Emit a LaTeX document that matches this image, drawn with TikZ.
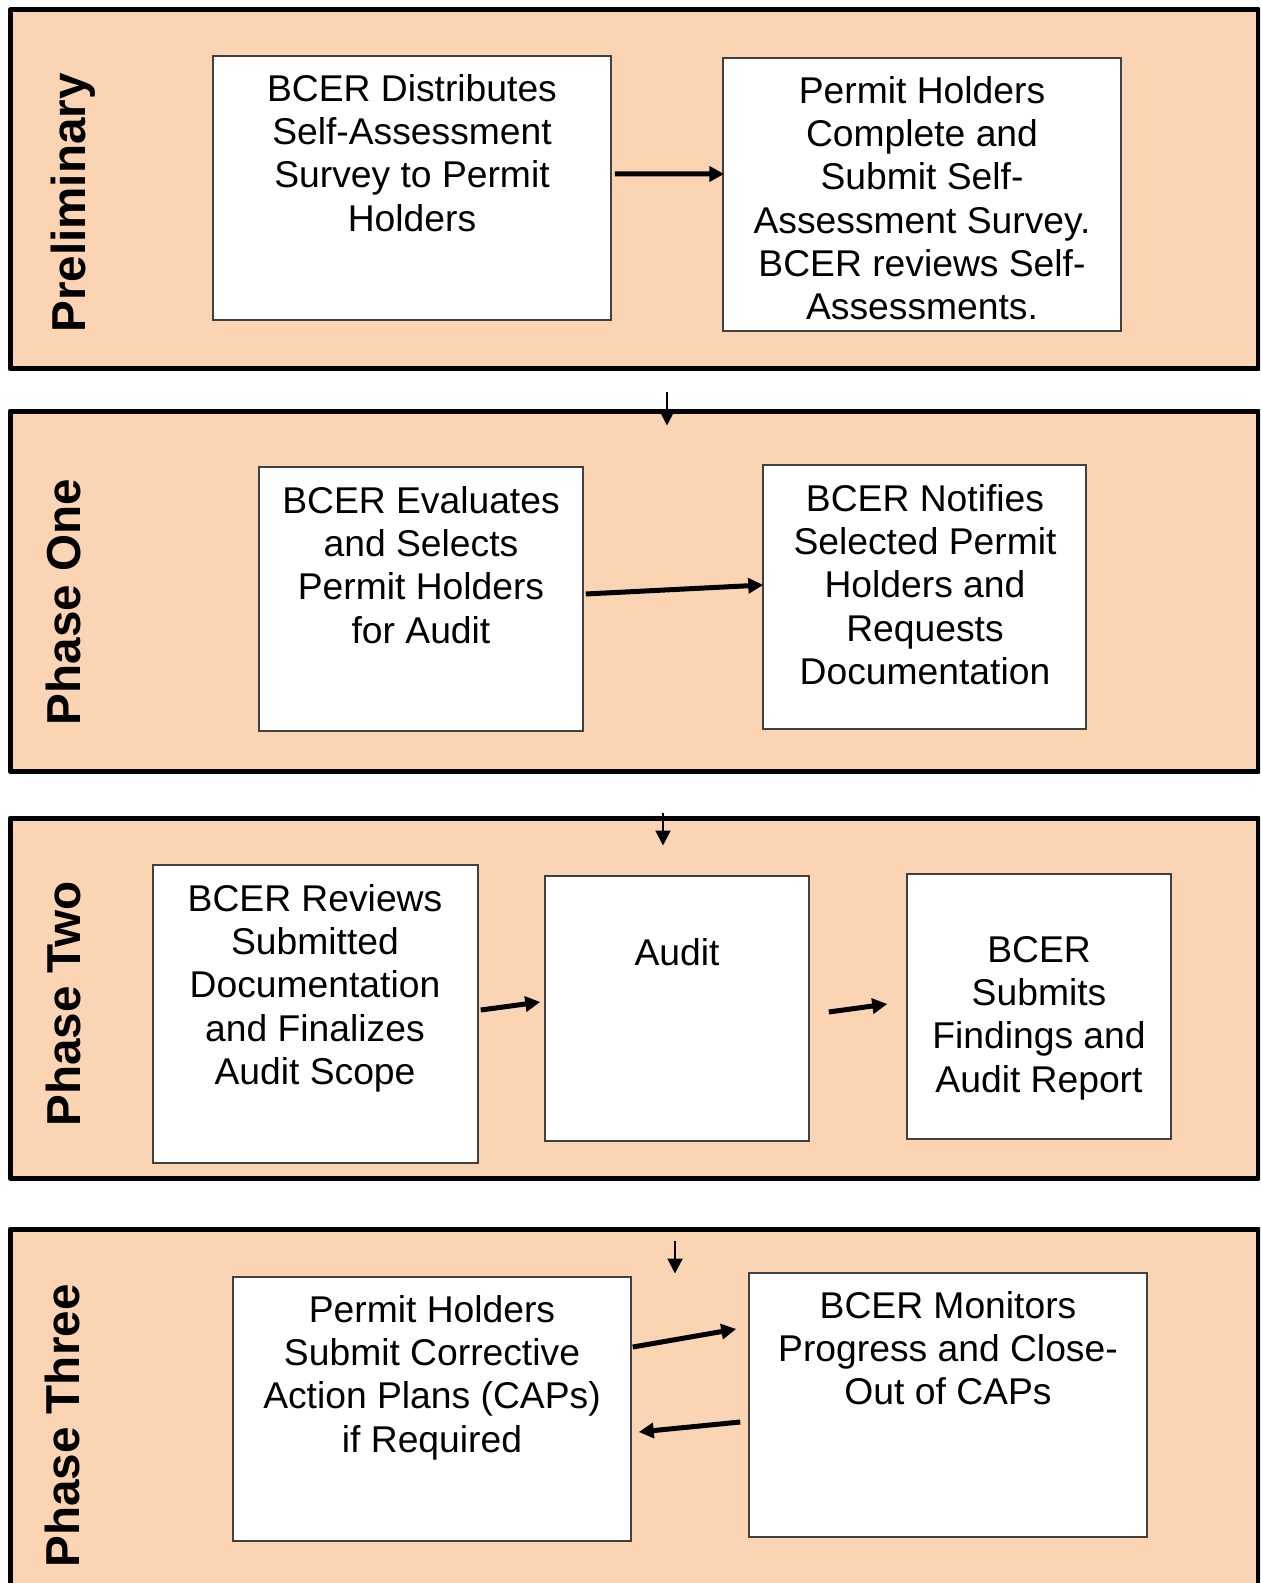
\documentclass[tikz,border=0pt]{standalone}
\usepackage{fontspec}
\setmainfont{Liberation Sans}
\usetikzlibrary{arrows.meta,calc,fit}
\definecolor{peach}{HTML}{FBD4B4}
\tikzset{
  panel/.style  ={draw,line width=1mm,fill=peach,inner sep=0pt,line join=round},
  stepbox/.style={draw=black!75,line width=0.3mm,fill=white,inner sep=0pt},
  txt/.style    ={align=center,inner sep=0pt,font=\fontsize{21.2}{24.6}\selectfont},
  phase/.style  ={rotate=90,anchor=base,inner sep=0pt,font=\bfseries\fontsize{27.1}{32}\selectfont},
  ar/.style     ={-{Triangle[length=3mm,width=3mm]},line width=1mm},
  dn/.style     ={-{Triangle[length=3mm,width=3mm]},line width=0.4mm},
}

\begin{document}
\begin{tikzpicture}[x=0.2mm,y=-0.2mm]
  \useasboundingbox (0,0) rectangle (1260,1583);
  \clip (0,0) rectangle (1260,1583);
  % phase bands
  \node[panel,fit={(10,10) (1258,369)}] (prelim) {};
  \node[panel,fit={(10,411) (1258,771)}] (one) {};
  \node[panel,fit={(10,818) (1258,1178)}] (two) {};
  \node[panel,fit={(10,1229) (1258,1650)}] (three) {};
  \node[phase] (lprelim) at (85,203) {Preliminary};
  \node[phase] (lone) at (80,602) {Phase One};
  \node[phase] (ltwo) at (80,1004) {Phase Two};
  \node[phase] (lthree) at (79,1426) {Phase Three};

  % preliminary
  \node[stepbox,fit={(213,56) (611,320)}] (dist) {};
  \node[txt,anchor=north] (tdist) at (412,74) {BCER Distributes\\Self-Assessment\\Survey to Permit\\Holders};
  \node[stepbox,fit={(723,58) (1121,331)}] (submit) {};
  \node[txt,anchor=north] (tsubmit) at (922,76) {Permit Holders\\Complete and\\Submit Self-\\Assessment Survey.\\BCER reviews Self-\\Assessments.};
  \draw[ar] ($(dist.east)+(3,-14)$) -- ($(submit.west)+(2,-20.5)$);

  % phase one
  \node[stepbox,fit={(259,467) (583,731)}] (evaluate) {};
  \node[txt,anchor=north] (tevaluate) at (421,486) {BCER Evaluates\\and Selects\\Permit Holders\\for Audit};
  \node[stepbox,fit={(763,465) (1086,729)}] (notify) {};
  \node[txt,anchor=north] (tnotify) at (925,484) {BCER Notifies\\Selected Permit\\Holders and\\Requests\\Documentation};
  \draw[ar] ($(evaluate.east)+(2,-5)$) -- ($(notify.west)+(1,-12)$);

  % phase two
  \node[stepbox,fit={(153,865) (478,1163)}] (review) {};
  \node[txt,anchor=north] (treview) at (315,884) {BCER Reviews\\Submitted\\Documentation\\and Finalizes\\Audit Scope};
  \node[stepbox,fit={(545,876) (809,1141)}] (audit) {};
  \node[txt,anchor=north] (taudit) at (677,938) {Audit};
  \node[stepbox,fit={(907,874) (1171,1139)}] (report) {};
  \node[txt,anchor=north] (treport) at (1039,936) {BCER\\Submits\\Findings and\\Audit Report};
  \draw[ar] ($(review.east)+(2,-4)$) -- ($(audit.west)+(-4,-6.5)$);
  \draw[ar] ($(audit.east)+(19,3.5)$) -- ($(report.west)+(-19,-2.5)$);

  % phase three
  \node[stepbox,fit={(233,1277) (631,1541)}] (caps) {};
  \node[txt,anchor=north] (tcaps) at (432,1295) {Permit Holders\\Submit Corrective\\Action Plans (CAPs)\\if Required};
  \node[stepbox,fit={(749,1273) (1147,1537)}] (monitor) {};
  \node[txt,anchor=north] (tmonitor) at (948,1291) {BCER Monitors\\Progress and Close-\\Out of CAPs};
  \draw[ar] ($(caps.east)+(1,-62)$) -- ($(monitor.west)+(-12,-76)$);
  \draw[ar] ($(monitor.west)+(-8,17)$) -- ($(caps.east)+(7,23)$);

  % between phases
  \draw[dn] ($(prelim.south)+(33,21)$) -- ($(one.north)+(33,17)$);
  \draw[dn] ($(one.south)+(29,39)$) -- ($(two.north)+(29,30)$);
  \draw[dn] ($(two.south)+(41,60)$) -- ($(three.north)+(41,47)$);
\end{tikzpicture}
\end{document}
